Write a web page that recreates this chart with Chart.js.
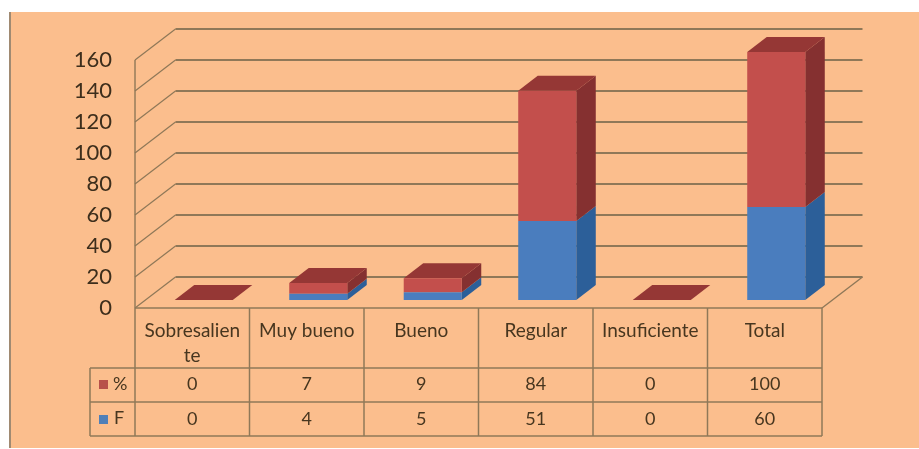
<!DOCTYPE html>
<html><head><meta charset="utf-8">
<script src="https://cdn.jsdelivr.net/npm/chart.js@4/dist/chart.umd.min.js"></script>
<style>html,body{margin:0;padding:0;background:#fff}#w{width:919px;height:449px;position:relative}canvas{display:block;filter:blur(.55px)}</style>
</head><body><div id="w"><canvas id="c" width="919" height="449"></canvas></div>
<script>
const categories = [["Sobresalien","te"],"Muy bueno","Bueno","Regular","Insuficiente","Total"];
const percent = [0,7,9,84,0,100];
const frequency = [0,4,5,51,0,60];
const seriesNames = ["F","%"];

const BG='#fbbe8d', GRID='#8f7858', TXT='#47361f', FONT='Lato, Carlito, sans-serif';
const WALL={dx:40.5,dy:31}, BAR={sx:11.5,sy:8,dx:19.5,dy:15};
const FACE={F:{front:'#4a7dbe',side:'#2c5f99',top:'#376092'},'%':{front:'#c34f4c',side:'#853030',top:'#953735'}};

const scene={
 id:'scene',
 beforeDraw(ch){
  const c=ch.ctx; c.save();
  c.fillStyle='#fff'; c.fillRect(0,0,919,449);
  c.fillStyle=BG; c.fillRect(10,12,909,436);
  c.fillStyle='#a08a72'; c.fillRect(9,12,2,436);
  c.restore();
 },
 beforeDatasetsDraw(ch){
  const c=ch.ctx,y=ch.scales.y,a=ch.chartArea;
  c.save(); c.strokeStyle=GRID;
  y.ticks.forEach(t=>{
   const p=y.getPixelForValue(t.value);
   c.lineWidth=2.2; c.beginPath(); c.moveTo(a.left+WALL.dx,p-WALL.dy); c.lineTo(a.right+WALL.dx,p-WALL.dy); c.stroke();
   c.lineWidth=1.2; c.beginPath(); c.moveTo(a.left,p); c.lineTo(a.left+WALL.dx,p-WALL.dy); c.stroke();
  });
  c.lineWidth=1.4; c.beginPath(); c.moveTo(a.left,a.top); c.lineTo(a.left,a.bottom); c.stroke();
  c.beginPath(); c.moveTo(a.right,a.bottom); c.lineTo(a.right+WALL.dx,a.bottom-WALL.dy); c.stroke();
  c.restore();
  // bars are drawn by the library, shifted onto the floor of the 3D box
  c.save(); c.translate(BAR.sx,-BAR.sy);
  ch.data.datasets.forEach((ds,i)=>{
   const m=ch.getDatasetMeta(i), col=FACE[ds.label];
   m.data.forEach(el=>{
    const r=el.x+el.width/2;
    c.fillStyle=col.side; c.beginPath();
    c.moveTo(r,el.base); c.lineTo(r+BAR.dx,el.base-BAR.dy); c.lineTo(r+BAR.dx,el.y-BAR.dy); c.lineTo(r,el.y); c.closePath(); c.fill();
   });
  });
  const last=ch.getDatasetMeta(ch.data.datasets.length-1);
  last.data.forEach(el=>{
   const l=el.x-el.width/2,r=el.x+el.width/2;
   c.fillStyle=FACE['%'].top; c.beginPath();
   c.moveTo(l,el.y); c.lineTo(l+BAR.dx,el.y-BAR.dy); c.lineTo(r+BAR.dx,el.y-BAR.dy); c.lineTo(r,el.y); c.closePath(); c.fill();
  });
 },
 afterDatasetsDraw(ch){
  ch.ctx.restore();
  const c=ch.ctx,a=ch.chartArea,x=ch.scales.x;
  const rowsY=[368,402,436], legendL=90, step=(a.right-a.left)/categories.length;
  c.save(); c.strokeStyle=GRID; c.lineWidth=1.5;
  const line=(x1,y1,x2,y2)=>{c.beginPath();c.moveTo(x1,y1);c.lineTo(x2,y2);c.stroke();};
  line(a.left,a.bottom,a.right,a.bottom);
  for(let i=0;i<=categories.length;i++) line(a.left+i*step,a.bottom,a.left+i*step,rowsY[2]);
  rowsY.forEach(v=>line(legendL,v,a.right,v));
  line(legendL,rowsY[0],legendL,rowsY[2]);
  c.font='18px '+FONT; c.fillStyle=TXT; c.textAlign='center'; c.textBaseline='middle';
  categories.forEach((_,i)=>{
   const px=x.getPixelForValue(i);
   c.fillText(String(percent[i]),px,384);
   c.fillText(String(frequency[i]),px,419);
  });
  c.textAlign='left';
  c.fillText(seriesNames[1],113,384);
  c.fillText(seriesNames[0],114,418);
  c.fillStyle='#b8504a'; c.fillRect(99,380,9,9);
  c.fillStyle='#4f7fb8'; c.fillRect(99,415,9,9);
  c.restore();
 }
};

new Chart(document.getElementById('c'),{
 type:'bar',
 data:{labels:categories,datasets:[
  {label:seriesNames[0],data:frequency,backgroundColor:FACE.F.front,borderWidth:0},
  {label:seriesNames[1],data:percent,backgroundColor:FACE['%'].front,borderWidth:0}
 ]},
 plugins:[scene],
 options:{
  responsive:false,animation:false,devicePixelRatio:1,
  layout:{padding:{top:60,right:97,bottom:0,left:0}},
  plugins:{legend:{display:false},title:{display:false},tooltip:{enabled:false}},
  datasets:{bar:{categoryPercentage:1,barPercentage:0.507}},
  scales:{
   x:{stacked:true,grid:{display:false},border:{display:false},
      afterFit(s){s.height=141;},
      ticks:{color:TXT,font:{family:FONT,size:19,lineHeight:1.32},padding:2,maxRotation:0,minRotation:0,autoSkip:false}},
   y:{stacked:true,min:0,max:160,grid:{display:false},border:{display:false},
      afterFit(s){s.width=135;},
      ticks:{stepSize:20,color:'#3d2e1c',font:{family:FONT,size:22},padding:15}}
  }
 }
});
</script></body></html>
